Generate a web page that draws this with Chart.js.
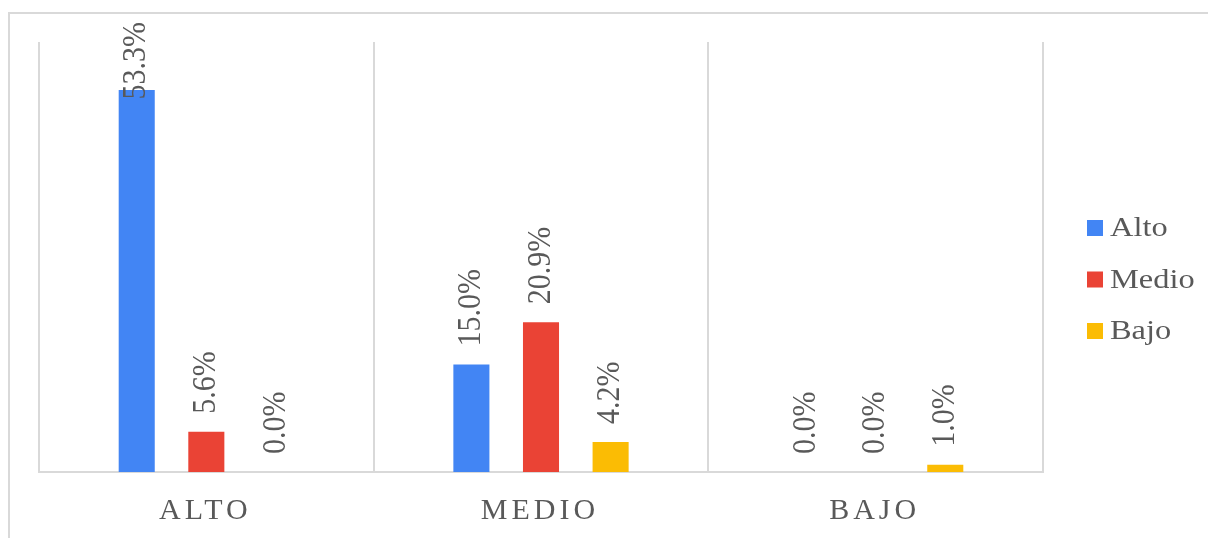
<!DOCTYPE html>
<html>
<head>
<meta charset="utf-8">
<script src="https://cdn.jsdelivr.net/npm/chart.js@4.4.1/dist/chart.umd.min.js"></script>
<style>
  html, body { margin: 0; padding: 0; background: #ffffff; overflow: hidden; }
  #wrap { position: relative; width: 1208px; height: 538px; }
  #frame { position: absolute; left: 8px; top: 12px; width: 1400px; height: 700px; border: 2px solid #d9d9d9; box-sizing: border-box; }
  canvas { position: absolute; left: 0; top: 0; }
</style>
</head>
<body>
<div id="wrap">
  <div id="frame"></div>
  <canvas id="c" width="1208" height="538"></canvas>
</div>
<script>
const categories = ['ALTO', 'MEDIO', 'BAJO'];
const seriesNames = ['Alto', 'Medio', 'Bajo'];
const altoValues = [53.3, 15.0, 0.0];
const medioValues = [5.6, 20.9, 0.0];
const bajoValues = [0.0, 4.2, 1.0];
const seriesColors = ['#4285F4', '#EA4335', '#FBBC04'];

const TEXT_COLOR = '#595959';
const SERIF = '"Liberation Serif", "Times New Roman", serif';

const labelPlugin = {
  id: 'labelPlugin',
  afterDraw(chart) {
    const ctx = chart.ctx;
    const area = chart.chartArea;
    // value labels (rotated)
    ctx.save();
    ctx.fillStyle = TEXT_COLOR;
    ctx.font = '30px ' + SERIF;
    chart.data.datasets.forEach((ds, i) => {
      const meta = chart.getDatasetMeta(i);
      meta.data.forEach((el, j) => {
        const txt = ds.data[j].toFixed(1) + '%';
        const w = ctx.measureText(txt).width;
        let start = el.y - 18;
        if (start - w < 22) start = 22 + w;
        ctx.save();
        ctx.translate(el.x, start);
        ctx.rotate(-Math.PI / 2);
        ctx.scale(1, 1.1);
        ctx.textAlign = 'left';
        ctx.textBaseline = 'middle';
        ctx.fillText(txt, 0, 0);
        ctx.restore();
      });
    });
    ctx.restore();

    // category labels
    const xs = chart.scales.x;
    ctx.save();
    ctx.fillStyle = TEXT_COLOR;
    ctx.font = '30px ' + SERIF;
    ctx.letterSpacing = '4px';
    ctx.textAlign = 'center';
    ctx.textBaseline = 'middle';
    categories.forEach((c, k) => {
      const x = xs.getPixelForValue(k);
      ctx.fillText(c, x - 1, area.bottom + 39);
    });
    ctx.restore();

    // legend
    ctx.save();
    ctx.font = '27px ' + SERIF;
    ctx.textAlign = 'left';
    ctx.textBaseline = 'middle';
    const lx = 1087, ly0 = 228, gap = 51.5;
    seriesNames.forEach((n, k) => {
      const y = ly0 + k * gap;
      ctx.fillStyle = seriesColors[k];
      ctx.fillRect(lx, y - 8, 16, 16);
      ctx.save();
      ctx.translate(lx + 23, y + 1);
      ctx.scale(1.2, 1);
      ctx.fillStyle = TEXT_COLOR;
      ctx.fillText(n, 0, 0);
      ctx.restore();
    });
    ctx.restore();
  }
};

new Chart(document.getElementById('c'), {
  type: 'bar',
  data: {
    labels: categories,
    datasets: [
      { label: seriesNames[0], data: altoValues, backgroundColor: seriesColors[0] },
      { label: seriesNames[1], data: medioValues, backgroundColor: seriesColors[1] },
      { label: seriesNames[2], data: bajoValues, backgroundColor: seriesColors[2] }
    ]
  },
  options: {
    responsive: false,
    maintainAspectRatio: false,
    animation: false,
    datasets: { bar: { categoryPercentage: 0.624, barPercentage: 0.518 } },
    layout: { padding: { left: 39, top: 42, right: 165, bottom: 66 } },
    plugins: { legend: { display: false }, tooltip: { enabled: false } },
    scales: {
      x: {
        offset: true,
        grid: { display: true, offset: true, color: '#d9d9d9', lineWidth: 2, drawTicks: false },
        border: { display: true, color: '#d9d9d9', width: 2 },
        ticks: { display: false }
      },
      y: {
        display: false,
        min: 0,
        max: 60
      }
    }
  },
  plugins: [labelPlugin]
});
</script>
</body>
</html>
